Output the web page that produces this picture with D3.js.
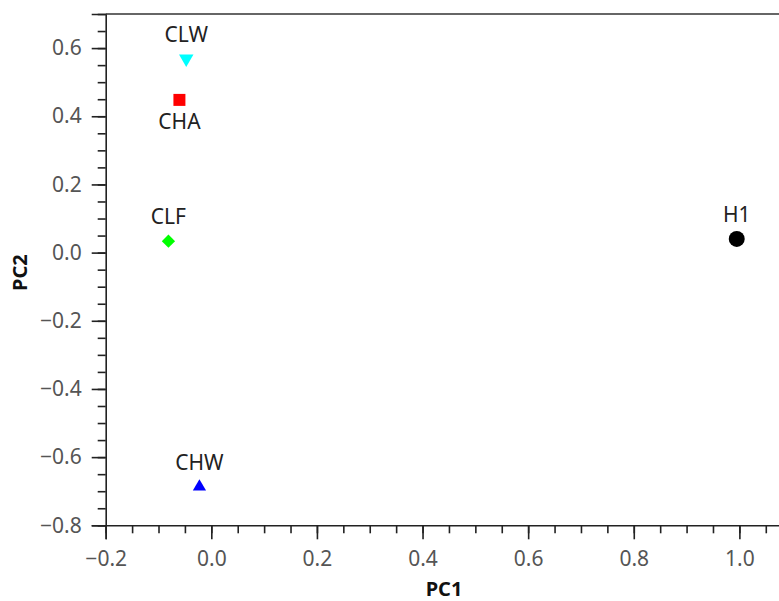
<!DOCTYPE html>
<html>
<head>
<meta charset="utf-8">
<script src="https://cdn.jsdelivr.net/npm/d3@7"></script>
<style>
  html, body { margin: 0; padding: 0; background: #fff; }
  svg { display: block; font-family: "Noto Sans", "Open Sans", sans-serif; }
</style>
</head>
<body>
<svg id="chart" width="779" height="601"></svg>
<script>
// PCA scores
const samples = ["CLW", "CHA", "CLF", "H1", "CHW"];
const pc1 = [-0.0475, -0.0604, -0.0812, 0.995, -0.0225];
const pc2 = [0.569, 0.448, 0.0335, 0.040, -0.687];
const markerShapes = ["triangleDown", "square", "diamond", "circle", "triangleUp"];
const markerColors = ["#00ffff", "#ff0000", "#00ff00", "#000000", "#0000ff"];
const labelSide = ["above", "below", "above", "above", "above"];

const xMajorTicks = [-0.2, 0.0, 0.2, 0.4, 0.6, 0.8, 1.0];
const yMajorTicks = [-0.8, -0.6, -0.4, -0.2, 0.0, 0.2, 0.4, 0.6];

const svg = d3.select("#chart");
const plotLeft = 105.7, plotRight = 782, plotTop = 14, plotBottom = 525.3;

const x = d3.scaleLinear().domain([-0.2, 1.0807]).range([plotLeft, plotRight]);
const y = d3.scaleLinear().domain([-0.8, 0.7]).range([plotBottom, plotTop]);

const fmt = d => (d < 0 ? "\u2212" : "") + Math.abs(d).toFixed(1);
const minorX = d3.range(-0.2, 1.08, 0.05).map(v => +v.toFixed(2));
const minorY = d3.range(-0.8, 0.701, 0.05).map(v => +v.toFixed(2));

// minor ticks
svg.append("g").attr("transform", `translate(0,${plotBottom})`)
  .call(d3.axisBottom(x).tickValues(minorX).tickSize(8).tickFormat(""))
  .call(g => g.select(".domain").remove());
svg.append("g").attr("transform", `translate(${plotLeft},0)`)
  .call(d3.axisLeft(y).tickValues(minorY).tickSize(8).tickFormat(""))
  .call(g => g.select(".domain").remove());

// major ticks and labels
svg.append("g").attr("transform", `translate(0,${plotBottom})`)
  .call(d3.axisBottom(x).tickValues(xMajorTicks).tickSize(14).tickPadding(12).tickFormat(fmt));
svg.append("g").attr("transform", `translate(${plotLeft},0)`)
  .call(d3.axisLeft(y).tickValues(yMajorTicks).tickSize(14).tickPadding(10).tickFormat(fmt));

svg.selectAll(".tick line").attr("stroke", "#222").attr("stroke-width", 1.6);
svg.selectAll(".domain").attr("stroke", "#222").attr("stroke-width", 1.6);
svg.selectAll(".tick text").attr("fill", "#555").attr("font-size", 21)
  .attr("font-family", "'Noto Sans', sans-serif");

// frame top edge
svg.append("line").attr("x1", plotLeft).attr("x2", plotRight).attr("y1", plotTop).attr("y2", plotTop)
  .attr("stroke", "#333").attr("stroke-width", 1.6);

// axis titles
svg.append("text").attr("x", 444).attr("y", 596)
  .attr("text-anchor", "middle").attr("font-weight", "bold").attr("font-size", 20)
  .attr("fill", "#111").text("PC1");
svg.append("text").attr("transform", `translate(27,${(plotTop + plotBottom) / 2 + 3}) rotate(-90)`)
  .attr("text-anchor", "middle").attr("font-weight", "bold").attr("font-size", 20)
  .attr("fill", "#111").text("PC2");

// markers
const symbolOf = {
  circle: d3.symbol().type(d3.symbolCircle).size(200),
  square: d3.symbol().type(d3.symbolSquare).size(144),
  diamond: d3.symbol().type(d3.symbolDiamond2).size(112),
  triangleUp: d3.symbol().type(d3.symbolTriangle2).size(125),
  triangleDown: d3.symbol().type(d3.symbolTriangle2).size(150)
};

const pts = svg.append("g").selectAll("g").data(samples).join("g")
  .attr("transform", (d, i) => `translate(${x(pc1[i])},${y(pc2[i])})`);

pts.append("path")
  .attr("d", (d, i) => symbolOf[markerShapes[i]]())
  .attr("transform", (d, i) => markerShapes[i] === "triangleDown" ? "rotate(180)" : null)
  .attr("fill", (d, i) => markerColors[i]);

pts.append("text")
  .attr("text-anchor", "middle")
  .attr("y", (d, i) => labelSide[i] === "above" ? -17 : 29)
  .attr("font-size", 21).attr("fill", "#222")
  .text(d => d);
</script>
</body>
</html>
